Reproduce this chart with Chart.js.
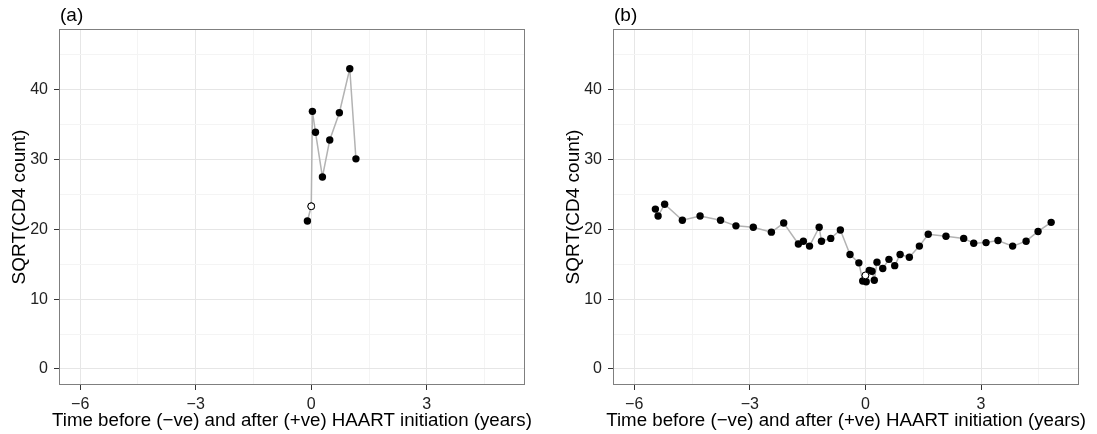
<!DOCTYPE html>
<html>
<head>
<meta charset="utf-8">
<script src="https://cdn.jsdelivr.net/npm/chart.js@4.4.1/dist/chart.umd.min.js"></script>
<style>
  html, body { margin: 0; padding: 0; background: #fff; overflow: hidden; }
  canvas { position: absolute; top: 0; }
  #panelA { left: 0; }
  #panelB { left: 554px; }
</style>
</head>
<body>
<canvas id="panelA" width="548" height="434"></canvas>
<canvas id="panelB" width="543" height="434"></canvas>
<script>
// panel (a): one patient, time in years relative to HAART start
const timeA = [-0.10, 0.00, 0.03, 0.11, 0.29, 0.48, 0.73, 1.00, 1.16];
const cd4A = [21.2, 23.3, 36.9, 33.9, 27.5, 32.8, 36.7, 43.0, 30.1];
const haartTimeA = [0.00];
const haartCd4A = [23.3];

// panel (b): another patient
const timeB = [-5.45, -5.38, -5.21, -4.75, -4.29, -3.76, -3.36, -2.91, -2.44, -2.12,
               -1.74, -1.61, -1.45, -1.20, -1.14, -0.90, -0.65, -0.40, -0.17, -0.07,
               0.00, 0.02, 0.10, 0.17, 0.23, 0.30, 0.45, 0.61, 0.76, 0.90,
               1.14, 1.40, 1.63, 2.09, 2.55, 2.81, 3.13, 3.44, 3.82, 4.17,
               4.48, 4.82];
const cd4B = [22.9, 21.9, 23.6, 21.3, 21.9, 21.3, 20.5, 20.3, 19.6, 20.9,
              17.9, 18.3, 17.6, 20.3, 18.3, 18.7, 19.9, 16.4, 15.2, 12.6,
              13.4, 12.5, 14.1, 14.0, 12.7, 15.3, 14.4, 15.7, 14.8, 16.4,
              16.0, 17.6, 19.3, 19.0, 18.7, 18.0, 18.1, 18.4, 17.6, 18.3,
              19.7, 21.0];
const haartTimeB = [0.00];
const haartCd4B = [13.4];

// axis ticks (majors get labels, the rest are minor grid lines)
const xTicks = [-6, -4.5, -3, -1.5, 0, 1.5, 3, 4.5];
const yTicks = [0, 5, 10, 15, 20, 25, 30, 35, 40, 45];

const xTitle = 'Time before (\u2212ve) and after (+ve) HAART initiation (years)';
const yTitle = 'SQRT(CD4 count)';

const FONT = '"Liberation Sans", Arial, sans-serif';
const isMajorX = v => Math.abs(v % 3) < 1e-9;
const isMajorY = v => Math.abs(v % 10) < 1e-9;
const fmt = v => v < 0 ? '\u2212' + Math.abs(v) : String(v);

const toPoints = (xs, ys) => xs.map((x, i) => ({ x: x, y: ys[i] }));

// grey frame round the panel, the (a)/(b) tag and the x title
// (x title drawn here because it is wider than the plot and chart.js would squash it)
const panelFrame = {
    id: 'panelFrame',
    afterDraw(chart, args, opts) {
        const { ctx, chartArea: a } = chart;
        ctx.save();
        ctx.strokeStyle = '#7f7f7f';
        ctx.lineWidth = 1;
        ctx.strokeRect(Math.round(a.left) + 0.5, Math.round(a.top) + 0.5,
                       Math.round(a.right - a.left) - 1, Math.round(a.bottom - a.top) - 1);
        ctx.fillStyle = '#000';
        ctx.font = '19px ' + FONT;
        ctx.textBaseline = 'alphabetic';
        ctx.textAlign = 'left';
        ctx.fillText(opts.label, a.left + 1, a.top - 8);
        ctx.font = '18.7px ' + FONT;
        ctx.textAlign = 'center';
        ctx.fillText(xTitle, (a.left + a.right) / 2, 426);
        ctx.restore();
    }
};

function makePanel(id, label, xs, ys, hx, hy, padRight) {
    const ctx = document.getElementById(id).getContext('2d');
    return new Chart(ctx, {
        type: 'scatter',
        data: {
            datasets: [{
                data: toPoints(hx, hy),
                pointRadius: 3.4,
                pointBackgroundColor: '#ffffff',
                pointBorderColor: '#000000',
                pointBorderWidth: 1,
                showLine: false
            }, {
                data: toPoints(xs, ys),
                showLine: true,
                borderColor: '#b3b3b3',
                borderWidth: 1.5,
                pointRadius: 3.7,
                pointBackgroundColor: '#000000',
                pointBorderColor: '#000000',
                pointBorderWidth: 0
            }]
        },
        plugins: [panelFrame],
        options: {
            responsive: false,
            animation: false,
            layout: { padding: { top: 29, right: padRight, bottom: 0, left: 0 } },
            plugins: {
                legend: { display: false },
                tooltip: { enabled: false },
                panelFrame: { label: label }
            },
            scales: {
                x: {
                    type: 'linear',
                    min: -6.55,
                    max: 5.55,
                    afterBuildTicks: scale => { scale.ticks = xTicks.map(v => ({ value: v })); },
                    afterFit: scale => { scale.height = 49; },
                    border: { display: false },
                    grid: {
                        color: c => (c.tick && isMajorX(c.tick.value)) ? '#e6e6e6' : '#f4f4f4',
                        lineWidth: 1,
                        tickLength: 5,
                        tickColor: c => (c.tick && isMajorX(c.tick.value)) ? '#333333' : 'rgba(0,0,0,0)'
                    },
                    ticks: {
                        autoSkip: false,
                        maxRotation: 0,
                        padding: 5,
                        color: '#222',
                        font: { family: FONT, size: 16 },
                        callback: v => isMajorX(v) ? fmt(v) : ''
                    },
                    title: { display: false }
                },
                y: {
                    type: 'linear',
                    min: -2.3,
                    max: 48.7,
                    afterBuildTicks: scale => { scale.ticks = yTicks.map(v => ({ value: v })); },
                    afterFit: scale => { scale.width = 59; },
                    border: { display: false },
                    grid: {
                        color: c => (c.tick && isMajorY(c.tick.value)) ? '#e6e6e6' : '#f4f4f4',
                        lineWidth: 1,
                        tickLength: 5,
                        tickColor: c => (c.tick && isMajorY(c.tick.value)) ? '#333333' : 'rgba(0,0,0,0)'
                    },
                    ticks: {
                        autoSkip: false,
                        padding: 6,
                        color: '#222',
                        font: { family: FONT, size: 16 },
                        callback: v => isMajorY(v) ? fmt(v) : ''
                    },
                    title: {
                        display: true,
                        text: yTitle,
                        color: '#000',
                        font: { family: FONT, size: 19 },
                        padding: { top: 8, bottom: 0 }
                    }
                }
            }
        }
    });
}

makePanel('panelA', '(a)', timeA, cd4A, haartTimeA, haartCd4A, 23);
makePanel('panelB', '(b)', timeB, cd4B, haartTimeB, haartCd4B, 17.7);
</script>
</body>
</html>
